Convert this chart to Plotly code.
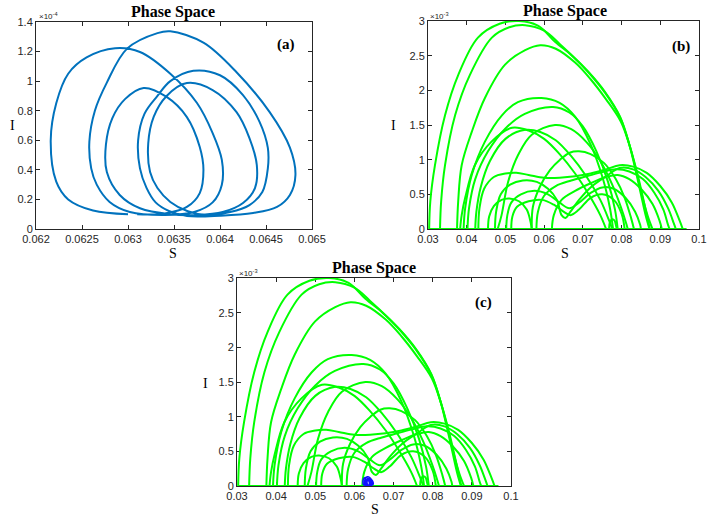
import plotly.graph_objects as go

# ---------- panel (a): one trajectory, S vs I (I in units of 1e-4) ----------
loopA_S = [0.06300, 0.06262, 0.06235, 0.06222, 0.06216, 0.06222, 0.06235, 0.06255, 0.06286,
           0.06313, 0.06346, 0.06375, 0.06392, 0.06402, 0.06402, 0.06392, 0.06372, 0.06340]
loopA_I = [0.10, 0.125, 0.20, 0.32, 0.60, 0.85, 1.05, 1.16, 1.222,
           1.197, 1.05, 0.852, 0.649, 0.467, 0.30, 0.18, 0.115, 0.095]
loopB_S = [0.06302, 0.06280, 0.06266, 0.06260, 0.06258, 0.06264, 0.06277, 0.06299, 0.06332, 0.06346,
           0.06382, 0.06418, 0.06454, 0.06476, 0.06482, 0.06476, 0.06462, 0.06436, 0.06400, 0.06364]
loopB_I = [0.115, 0.183, 0.30, 0.41, 0.59, 0.80, 0.99, 1.22, 1.325, 1.337,
           1.26, 1.06, 0.79, 0.55, 0.365, 0.23, 0.149, 0.108, 0.09, 0.088]
loopC_S = [0.06345, 0.06330, 0.06320, 0.06313, 0.06311, 0.06318, 0.06332, 0.06346, 0.06371,
           0.06400, 0.06425, 0.06443, 0.06452, 0.06452, 0.06446, 0.06432, 0.06411, 0.06385]
loopC_I = [0.12, 0.18, 0.28, 0.41, 0.60, 0.78, 0.90, 1.00, 1.07,
           1.04, 0.906, 0.724, 0.548, 0.41, 0.25, 0.162, 0.115, 0.095]
loopD_S = [0.06365, 0.06346, 0.06332, 0.06324, 0.06322, 0.06328, 0.06342, 0.06364,
           0.06392, 0.06418, 0.06432, 0.06440, 0.06438, 0.06425, 0.06403, 0.06375, 0.06346]
loopD_I = [0.12, 0.183, 0.277, 0.385, 0.58, 0.76, 0.90, 0.987,
           0.94, 0.79, 0.615, 0.433, 0.277, 0.176, 0.115, 0.095, 0.10]
loopE_S = [0.06313, 0.06291, 0.06277, 0.06276, 0.06283, 0.06297, 0.06317, 0.06342,
           0.06364, 0.06378, 0.06382, 0.06378, 0.06364, 0.06340, 0.06310]
loopE_I = [0.14, 0.23, 0.385, 0.57, 0.75, 0.88, 0.954, 0.893,
           0.757, 0.555, 0.40, 0.243, 0.149, 0.105, 0.10]

# ---------- panel (b)/(c): green trajectory, S vs I (I in units of 1e-3) ----------
big1_S = [0.0303, 0.0306, 0.0318, 0.0344, 0.0378, 0.0429, 0.0485, 0.0535, 0.0585, 0.0628,
          0.0672, 0.0714, 0.0757, 0.0796, 0.0820, 0.0834, 0.0850, 0.0862, 0.0872]
big1_I = [0, 0.4, 0.92, 1.64, 2.22, 2.76, 2.96, 3.0, 2.93, 2.70,
          2.50, 2.27, 1.98, 1.62, 1.22, 0.90, 0.50, 0.20, 0]
big2_S = [0.0331, 0.0334, 0.0344, 0.0370, 0.0408, 0.0465, 0.0510, 0.0551, 0.0600, 0.0640,
          0.0680, 0.0716, 0.0758, 0.0797, 0.0821, 0.0836, 0.0853, 0.0868, 0.0880]
big2_I = [0, 0.4, 0.92, 1.64, 2.22, 2.76, 2.91, 2.94, 2.86, 2.67,
          2.46, 2.25, 1.96, 1.60, 1.20, 0.88, 0.48, 0.18, 0]
big3_S = [0.0375, 0.0378, 0.0387, 0.0413, 0.0447, 0.0499, 0.0551, 0.0590, 0.0630,
          0.0680, 0.0720, 0.0760, 0.0798, 0.0822, 0.0838, 0.0855, 0.0866, 0.0873]
big3_I = [0, 0.4, 0.92, 1.40, 1.89, 2.37, 2.58, 2.65, 2.60,
          2.40, 2.16, 1.87, 1.55, 1.18, 0.86, 0.46, 0.18, 0]
mid1_S = [0.0392, 0.0396, 0.0413, 0.0447, 0.0491, 0.0532, 0.0593, 0.0640, 0.0680, 0.0720, 0.0752, 0.0770, 0.0778]
mid1_I = [0, 0.30, 0.78, 1.26, 1.64, 1.83, 1.89, 1.82, 1.62, 1.22, 0.72, 0.30, 0]
mid2_S = [0.0402, 0.0406, 0.0422, 0.0455, 0.0500, 0.0550, 0.0623, 0.0665, 0.0700, 0.0735, 0.0765, 0.0783, 0.0790]
mid2_I = [0, 0.30, 0.72, 1.12, 1.45, 1.66, 1.76, 1.68, 1.48, 1.12, 0.68, 0.28, 0]
mid3_S = [0.0383, 0.0387, 0.0396, 0.0421, 0.0464, 0.0517, 0.0560, 0.0600, 0.0640, 0.0680, 0.0715, 0.0745, 0.0760]
mid3_I = [0, 0.20, 0.45, 0.92, 1.26, 1.46, 1.42, 1.30, 1.08, 0.80, 0.50, 0.20, 0]
mid4_S = [0.0422, 0.0425, 0.0436, 0.0460, 0.0500, 0.0551, 0.0590, 0.0630, 0.0670, 0.0710, 0.0745, 0.0768, 0.0776]
mid4_I = [0, 0.25, 0.60, 0.98, 1.30, 1.43, 1.40, 1.28, 1.05, 0.75, 0.42, 0.12, 0]
mid5_S = [0.0480, 0.0490, 0.0507, 0.0533, 0.0568, 0.0628, 0.0670, 0.0710, 0.0745, 0.0775, 0.0798, 0.0812, 0.0816]
mid5_I = [0, 0.20, 0.68, 1.07, 1.36, 1.50, 1.44, 1.25, 0.98, 0.65, 0.32, 0.08, 0]
mid6_S = [0.0568, 0.0571, 0.0589, 0.0615, 0.0641, 0.0666, 0.0690, 0.0720, 0.0755, 0.0785, 0.0808, 0.0825, 0.0832]
mid6_I = [0, 0.32, 0.61, 0.85, 1.00, 1.10, 1.12, 1.08, 0.95, 0.72, 0.45, 0.15, 0]
low1_S = [0.0430, 0.0433, 0.0445, 0.0470, 0.0500, 0.0528, 0.0560, 0.0600, 0.0640, 0.0680,
          0.0720, 0.0760, 0.0795, 0.0830, 0.0865, 0.0900, 0.0930, 0.0950, 0.0958]
low1_I = [0, 0.30, 0.58, 0.75, 0.80, 0.81, 0.78, 0.74, 0.74, 0.76,
          0.80, 0.86, 0.92, 0.90, 0.81, 0.62, 0.38, 0.12, 0]
low2_S = [0.0473, 0.0476, 0.0488, 0.0512, 0.0545, 0.0581, 0.0610, 0.0633, 0.0645, 0.0655, 0.0668,
          0.0690, 0.0720, 0.0760, 0.0795, 0.0830, 0.0862, 0.0895, 0.0920, 0.0935, 0.0940]
low2_I = [0, 0.25, 0.50, 0.64, 0.70, 0.68, 0.58, 0.42, 0.20, 0.16, 0.25,
          0.42, 0.60, 0.76, 0.88, 0.86, 0.75, 0.55, 0.30, 0.08, 0]
low3_S = [0.0502, 0.0505, 0.0515, 0.0540, 0.0575, 0.0610, 0.0640, 0.0665, 0.0690,
          0.0720, 0.0750, 0.0780, 0.0810, 0.0835, 0.0848, 0.0850]
low3_I = [0, 0.20, 0.38, 0.50, 0.55, 0.50, 0.38, 0.30, 0.38,
          0.52, 0.60, 0.58, 0.45, 0.25, 0.06, 0]
low4_S = [0.0515, 0.0518, 0.0530, 0.0560, 0.0595, 0.0625, 0.0650, 0.0668, 0.0690, 0.0720, 0.0750, 0.0780, 0.0800, 0.0808]
low4_I = [0, 0.18, 0.32, 0.40, 0.42, 0.35, 0.25, 0.20, 0.28, 0.45, 0.50, 0.42, 0.22, 0]
low5_S = [0.0455, 0.0458, 0.0470, 0.0490, 0.0510, 0.0535, 0.0555, 0.0565, 0.0568]
low5_I = [0, 0.18, 0.33, 0.42, 0.44, 0.40, 0.28, 0.10, 0]
low6_S = [0.0580, 0.0584, 0.0600, 0.0630, 0.0670, 0.0710, 0.0750, 0.0785, 0.0820, 0.0855, 0.0885, 0.0908, 0.0920, 0.0924]
low6_I = [0, 0.25, 0.48, 0.62, 0.70, 0.76, 0.82, 0.86, 0.83, 0.72, 0.52, 0.28, 0.06, 0]
low7_S = [0.0620, 0.0625, 0.0645, 0.0680, 0.0720, 0.0760, 0.0790, 0.0820, 0.0850, 0.0880, 0.0898, 0.0904]
low7_I = [0, 0.20, 0.42, 0.55, 0.66, 0.75, 0.78, 0.72, 0.58, 0.36, 0.12, 0]
bump_S = [0.0768, 0.0770, 0.0776, 0.0782, 0.0786, 0.0788]
bump_I = [0, 0.10, 0.14, 0.12, 0.04, 0]
base_S = [0.0303, 0.0968]
base_I = [0, 0]

# tick labels
xa_ticks = [0.062, 0.0625, 0.063, 0.0635, 0.064, 0.0645, 0.065]
xa_text = ["0.062", "0.0625", "0.063", "0.0635", "0.064", "0.0645", "0.065"]
ya_ticks = [0, 0.2, 0.4, 0.6, 0.8, 1.0, 1.2, 1.4]
ya_text = ["0", "0.2", "0.4", "0.6", "0.8", "1", "1.2", "1.4"]
xb_ticks = [0.03, 0.04, 0.05, 0.06, 0.07, 0.08, 0.09, 0.1]
xb_text = ["0.03", "0.04", "0.05", "0.06", "0.07", "0.08", "0.09", "0.1"]
yb_ticks = [0, 0.5, 1, 1.5, 2, 2.5, 3]
yb_text = ["0", "0.5", "1", "1.5", "2", "2.5", "3"]

# join the blue loops into one continuous path
a_S = loopA_S + loopB_S + loopC_S + loopD_S + loopE_S
a_I = loopA_I + loopB_I + loopC_I + loopD_I + loopE_I

# green arcs separated by gaps
arcs = [(big1_S, big1_I), (big2_S, big2_I), (big3_S, big3_I),
        (mid1_S, mid1_I), (mid2_S, mid2_I), (mid3_S, mid3_I), (mid4_S, mid4_I),
        (mid5_S, mid5_I), (mid6_S, mid6_I),
        (low1_S, low1_I), (low2_S, low2_I), (low3_S, low3_I), (low4_S, low4_I),
        (low5_S, low5_I), (low6_S, low6_I), (low7_S, low7_I), (bump_S, bump_I),
        (base_S, base_I)]
g_S, g_I = [], []
for s, i in arcs:
    g_S += s + [None]
    g_I += i + [None]

BLUE = "#0072BD"
GREEN = "#00FF00"
W, H = 709, 516

fig = go.Figure()
fig.add_trace(go.Scatter(x=a_S, y=a_I, mode="lines", line=dict(color=BLUE, width=2, shape="spline"),
                         xaxis="x", yaxis="y", showlegend=False, hoverinfo="skip"))
fig.add_trace(go.Scatter(x=g_S, y=g_I, mode="lines", line=dict(color=GREEN, width=2, shape="spline"),
                         xaxis="x2", yaxis="y2", showlegend=False, hoverinfo="skip"))
fig.add_trace(go.Scatter(x=g_S, y=g_I, mode="lines", line=dict(color=GREEN, width=2, shape="spline"),
                         xaxis="x3", yaxis="y3", showlegend=False, hoverinfo="skip"))
# panel (a) trajectory drawn on the 1e-3 scale of panel (c)
fig.add_trace(go.Scatter(x=a_S, y=[v / 10 for v in a_I], mode="lines",
                         line=dict(color="#1010FF", width=1.5, shape="spline"),
                         xaxis="x3", yaxis="y3", showlegend=False, hoverinfo="skip"))


def px_x(p):
    return p / W


def px_y(p):
    return 1 - p / H


axis_style = dict(showgrid=False, zeroline=False, showline=True, linecolor="#262626", linewidth=1,
                  mirror="ticks", ticks="inside", ticklen=4, tickcolor="#262626",
                  tickfont=dict(family="Liberation Sans, Arial", size=11, color="#262626"),
                  layer="below traces", automargin=False)

fig.update_layout(
    width=W, height=H, margin=dict(l=0, r=0, t=0, b=0, pad=0),
    paper_bgcolor="white", plot_bgcolor="white",
    xaxis=dict(axis_style, domain=[px_x(36), px_x(312)], range=[0.062, 0.065],
               tickvals=xa_ticks, ticktext=xa_text, anchor="y"),
    yaxis=dict(axis_style, domain=[px_y(229), px_y(22)], range=[0, 1.4],
               tickvals=ya_ticks, ticktext=ya_text, anchor="x"),
    xaxis2=dict(axis_style, domain=[px_x(428), px_x(699)], range=[0.03, 0.1],
                tickvals=xb_ticks, ticktext=xb_text, anchor="y2"),
    yaxis2=dict(axis_style, domain=[px_y(229), px_y(21)], range=[0, 3],
                tickvals=yb_ticks, ticktext=yb_text, anchor="x2"),
    xaxis3=dict(axis_style, domain=[px_x(237), px_x(511)], range=[0.03, 0.1],
                tickvals=xb_ticks, ticktext=xb_text, anchor="y3"),
    yaxis3=dict(axis_style, domain=[px_y(486), px_y(278)], range=[0, 3],
                tickvals=yb_ticks, ticktext=yb_text, anchor="x3"),
)

serif = "Liberation Serif, Times New Roman, serif"
notes = [
    # titles
    (173, 12, "<b>Phase Space</b>", 16),
    (565, 11, "<b>Phase Space</b>", 16),
    (374, 268, "<b>Phase Space</b>", 16),
    # panel letters
    (286, 44, "<b>(a)</b>", 15),
    (681, 46, "<b>(b)</b>", 15),
    (483, 302, "<b>(c)</b>", 15),
    # axis labels
    (173, 253, "S", 14),
    (565, 253, "S", 14),
    (375, 509, "S", 14),
    (12, 125, "I", 14),
    (393, 125, "I", 14),
    (205, 383, "I", 14),
]
for x, y, t, s in notes:
    fig.add_annotation(x=px_x(x), y=px_y(y), xref="paper", yref="paper", text=t, showarrow=False,
                       xanchor="center", yanchor="middle", font=dict(family=serif, size=s, color="black"))

# exponent labels
for x, y, t in [(37, 16, "×10<sup>-4</sup>"), (428, 16, "×10<sup>-3</sup>"), (237, 273, "×10<sup>-3</sup>")]:
    fig.add_annotation(x=px_x(x), y=px_y(y), xref="paper", yref="paper", text=t, showarrow=False,
                       xanchor="left", yanchor="middle",
                       font=dict(family="Liberation Sans, Arial", size=8, color="#262626"))

# drop the default page margin so the figure sits at the window origin
fig.write_html("out.html", config={"displayModeBar": False},
               post_script="document.body.style.margin='0px';document.body.style.overflow='hidden';")
